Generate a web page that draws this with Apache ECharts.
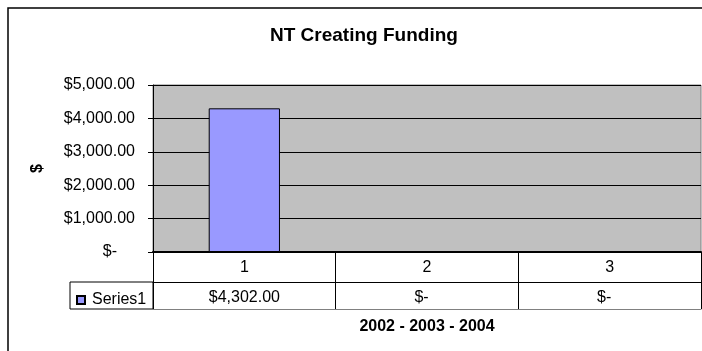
<!DOCTYPE html>
<html>
<head>
<meta charset="utf-8">
<script src="https://cdn.jsdelivr.net/npm/echarts@6/dist/echarts.min.js"></script>
<style>
  html, body { margin: 0; padding: 0; background: #ffffff; }
  #chart { width: 702px; height: 351px; }
</style>
</head>
<body>
<div id="chart"></div>
<script>
// Chart content
const chartTitle = 'NT Creating Funding';
const categories = ['1', '2', '3'];
const seriesName = 'Series1';
const seriesValues = [4302, 0, 0];
const yTicks = [0, 1000, 2000, 3000, 4000, 5000];
const xAxisTitle = '2002 - 2003 - 2004';
const yAxisTitle = '$';

// Accounting-style currency: zero shows as "$-"
function money(v) {
  if (v === 0) return null;
  const fixed = v.toFixed(2);
  const parts = fixed.split('.');
  const whole = parts[0].replace(/\B(?=(\d{3})+(?!\d))/g, ',');
  return '$' + whole + '.' + parts[1];
}

const FONT = '"Liberation Sans", Arial, sans-serif';
const W = 702, H = 351;
const plot = { left: 153, right: 1, top: 85, bottom: 99 };
const rowH = 30;          // table row with category numbers
const row2H = 27;         // table row with series values
const axisY = H - plot.bottom;
const legendCellLeft = 70;

const chart = echarts.init(document.getElementById('chart'), null, { renderer: 'canvas' });

chart.setOption({
  animation: false,
  backgroundColor: '#ffffff',
  textStyle: { fontFamily: FONT, color: '#000' },
  title: {
    text: chartTitle,
    left: 265,
    top: 21,
    textStyle: { fontFamily: FONT, fontSize: 19, fontWeight: 'bold', color: '#000' }
  },
  legend: {
    data: [seriesName],
    left: legendCellLeft + 1,
    top: axisY + rowH + 5,
    itemWidth: 8,
    itemHeight: 8,
    itemGap: 6,
    icon: 'rect',
    textStyle: { fontFamily: FONT, fontSize: 16, color: '#000', padding: [0, 0, 0, 2] }
  },
  grid: {
    left: plot.left,
    right: plot.right,
    top: plot.top,
    bottom: plot.bottom,
    show: true,
    backgroundColor: '#c0c0c0',
    borderColor: '#808080',
    borderWidth: 1,
    containLabel: false
  },
  xAxis: [
    {
      type: 'category',
      data: categories,
      boundaryGap: true,
      axisLine: { show: true, lineStyle: { color: '#000', width: 2 } },
      axisTick: { show: true, length: rowH + row2H, alignWithLabel: false, lineStyle: { color: '#000', width: 1 } },
      axisLabel: { fontFamily: FONT, fontSize: 16, color: '#000', margin: 8 },
      splitLine: { show: false }
    },
    {
      type: 'category',
      data: categories,
      position: 'bottom',
      offset: rowH,
      axisLine: { show: true, lineStyle: { color: '#000', width: 1 } },
      axisTick: { show: false },
      axisLabel: {
        fontFamily: FONT, fontSize: 16, color: '#000', margin: 8,
        formatter: function (v, i) {
          const s = money(seriesValues[i]);
          return s === null ? '{z|$-}' : s;
        },
        rich: { z: { fontFamily: FONT, fontSize: 16, color: '#000', padding: [0, 11, 0, 0] } }
      }
    },
    {
      type: 'category',
      data: categories,
      position: 'bottom',
      offset: rowH + row2H,
      axisLine: { show: true, lineStyle: { color: '#808080', width: 1 } },
      axisTick: { show: false },
      axisLabel: { show: false },
      name: xAxisTitle,
      nameLocation: 'middle',
      nameGap: 10,
      nameTextStyle: { fontFamily: FONT, fontSize: 16, fontWeight: 'bold', color: '#000', verticalAlign: 'top' }
    }
  ],
  yAxis: {
    type: 'value',
    min: yTicks[0],
    max: yTicks[yTicks.length - 1],
    interval: yTicks[1] - yTicks[0],
    axisLine: { show: true, lineStyle: { color: '#000', width: 1 } },
    axisTick: { show: true, length: 5, lineStyle: { color: '#000' } },
    splitLine: { show: true, lineStyle: { color: '#000', width: 1 } },
    axisLabel: {
      fontFamily: FONT, fontSize: 16, color: '#000', margin: 18,
      formatter: function (v) {
        const s = money(v);
        return s === null ? '{z|$-}' : s;
      },
      rich: { z: { fontFamily: FONT, fontSize: 16, color: '#000', padding: [0, 18, 0, 0] } }
    },
    name: yAxisTitle,
    nameLocation: 'middle',
    nameGap: 107,
    nameRotate: 90,
    nameTextStyle: { fontFamily: FONT, fontSize: 16, fontWeight: 'bold', color: '#000' }
  },
  series: [
    {
      name: seriesName,
      type: 'bar',
      xAxisIndex: 0,
      data: seriesValues,
      barWidth: '39%',
      itemStyle: { color: '#9999ff', borderColor: '#000', borderWidth: 1 }
    }
  ],
  graphic: [
    {
      // chart frame (left and top edges visible)
      type: 'rect',
      silent: true,
      shape: { x: 8, y: 8, width: W + 100, height: H + 100 },
      style: { fill: 'none', stroke: '#000', lineWidth: 1.5 }
    },
    {
      // legend-key cell of the data table
      type: 'rect',
      silent: true,
      shape: { x: legendCellLeft, y: axisY + rowH, width: plot.left - legendCellLeft, height: row2H },
      style: { fill: 'none', stroke: '#000', lineWidth: 1 }
    }
  ]
});
</script>
</body>
</html>
